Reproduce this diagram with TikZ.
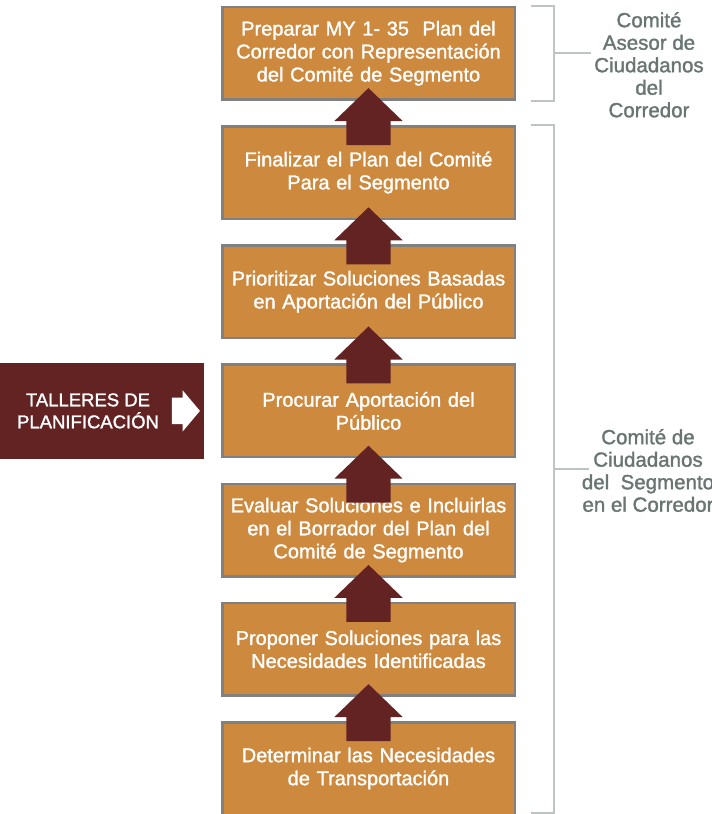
\documentclass[tikz,border=0pt]{standalone}
\usepackage{fontspec}
\setmainfont{Liberation Sans}[RawFeature={embolden=1.4}]
\usetikzlibrary{shapes.arrows,calc}
\definecolor{boxorange}{RGB}{205,137,61}
\definecolor{boxgray}{RGB}{128,128,128}
\definecolor{darkred}{RGB}{99,35,35}
\definecolor{brkgray}{RGB}{190,195,196}
\definecolor{lblgray}{RGB}{104,117,114}

\begin{document}
\begin{tikzpicture}[
	x=1pt, y=1pt,
	node distance=119.2pt,
	text centered,
	desc/.style={
		rectangle,
		draw=boxgray,
		line width=2.5pt,
		fill=boxorange,
		text=white,
		minimum width=292.5pt,
		minimum height=92.5pt,
		text width=288pt,
		inner sep=0pt,
		font=\fontsize{20}{23}\selectfont
	},
	uparr/.style={
		single arrow,
		shape border rotate=90,
		fill=darkred,
		inner xsep=22pt,
		inner ysep=0pt,
		minimum height=57pt,
		single arrow head extend=12pt,
		single arrow tip angle=92,
		anchor=tip
	},
	brk/.style={
		draw=brkgray,
		line width=2pt
	},
	lbl/.style={
		text=lblgray,
		align=center,
		font=\fontsize{20.5}{22.5}\selectfont
	}
	]
	\useasboundingbox (0,0) rectangle (712,-814);

	\node [desc] (Needs) at (368.5,-768.5) {Determinar las Necesidades\\de Transportación};
	\node [desc, above of=Needs] (Propose) {Proponer Soluciones para las\\Necesidades Identificadas};
	\node [desc, above of=Propose] (Evaluate) {Evaluar Soluciones e Incluirlas\\en el Borrador del Plan del\\Comité de Segmento};
	\node [desc, above of=Evaluate] (Input) {Procurar Aportación del\\Público};
	\node [desc, above of=Input] (Prioritize) {Prioritizar Soluciones Basadas\\en Aportación del Público};
	\node [desc, above of=Prioritize] (Finalize) {Finalizar el Plan del Comité\\Para el Segmento};
	\node [desc, above of=Finalize] (Corridor) {Preparar MY 1- 35~ Plan del\\Corredor con Representación\\del Comité de Segmento};

	% block arrows between the steps
	\node [uparr] (NeedsUp) at ([yshift=13pt]Propose.south) {};
	\node [uparr] (ProposeUp) at ([yshift=13pt]Evaluate.south) {};
	\node [uparr] (EvaluateUp) at ([yshift=13pt]Input.south) {};
	\node [uparr] (InputUp) at ([yshift=13pt]Prioritize.south) {};
	\node [uparr] (PrioritizeUp) at ([yshift=13pt]Finalize.south) {};
	\node [uparr] (FinalizeUp) at ([yshift=13pt]Corridor.south) {};

	\node [rectangle, fill=darkred, minimum width=204pt, minimum height=96pt, inner sep=0pt] (Workshop) at (Input -| 102,0) {};
	\node [text=white, align=center, font=\fontsize{18.5}{22}\selectfont] (WorkshopText) at ([xshift=-14pt]Workshop.center) {TALLERES DE\\PLANIFICACIÓN};
	\node [single arrow, fill=white, inner xsep=0pt, inner ysep=13pt, minimum height=28pt, single arrow head extend=7.5pt, single arrow tip angle=100, anchor=tip] (WorkshopArrow) at ([xshift=-4pt]Workshop.east) {};

	% brackets
	\draw [brk] ([xshift=15pt]Corridor.north east) -| ([xshift=38pt]Corridor.south east) -- ([xshift=15pt]Corridor.south east);
	\coordinate (AdvMid) at ([xshift=38pt]Corridor.east);
	\coordinate (AdvEnd) at ([xshift=37pt]AdvMid);
	\draw [brk] (AdvMid) -- (AdvEnd);
	\node [lbl] (Advisory) at ([xshift=95pt, yshift=-11.5pt]AdvMid) {Comité\\Asesor de\\Ciudadanos\\del\\Corredor};

	\draw [brk] ([xshift=15pt]Finalize.north east) -| ([xshift=38pt, yshift=3pt]Needs.south east) -- ([xshift=15pt, yshift=3pt]Needs.south east);
	\coordinate (SegMid) at ($([xshift=38pt]Finalize.north east)!0.5!([xshift=38pt, yshift=3pt]Needs.south east)$);
	\coordinate (SegEnd) at ([xshift=35pt]SegMid);
	\draw [brk] (SegMid) -- (SegEnd);
	\node [lbl] (Segment) at ([xshift=94pt, yshift=-1.5pt]SegMid) {Comité de\\Ciudadanos\\del~ Segmento\\en el Corredor};

	\end{tikzpicture}
\end{document}
